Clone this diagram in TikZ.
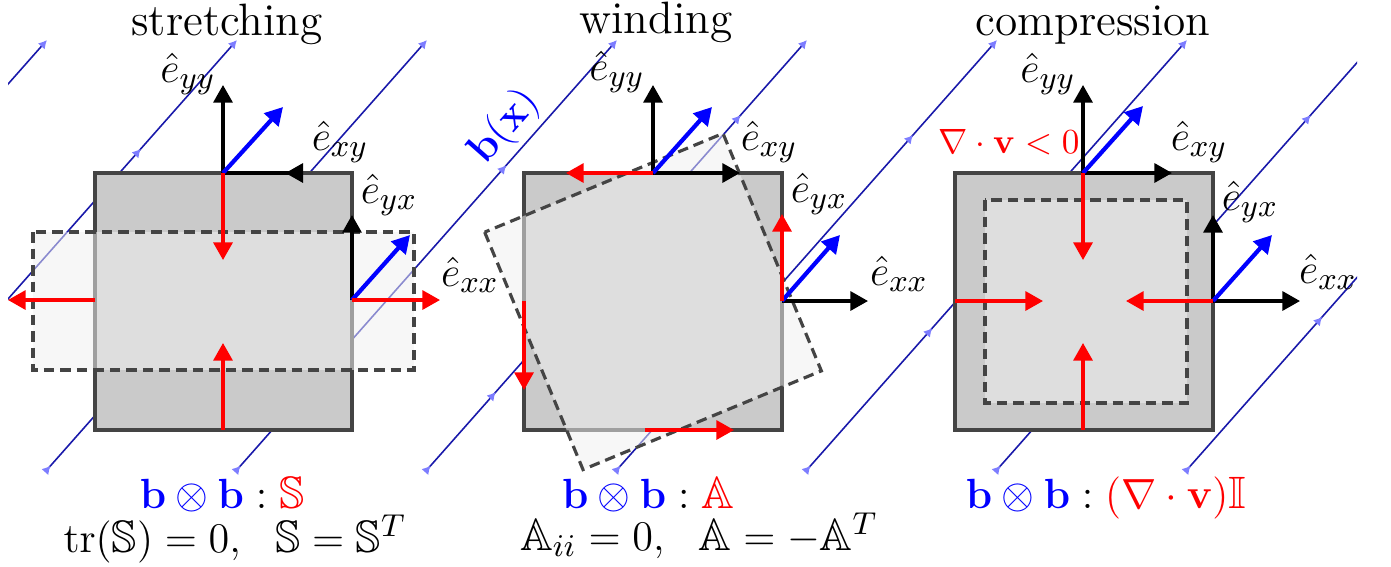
\documentclass[tikz,border=0pt]{standalone}
\usepackage{amsmath}
\usepackage{amssymb}
\usetikzlibrary{arrows.meta,decorations.markings}
\definecolor{fieldc}{RGB}{25,25,170}
\definecolor{tipc}{RGB}{125,125,255}
\definecolor{boxc}{RGB}{202,202,202}
\definecolor{edgec}{RGB}{68,68,68}

\begin{document}
\begin{tikzpicture}[x=0.01cm,y=-0.01cm,
  lab/.style={font=\fontsize{12.9}{15}\selectfont},
  fld/.style={fieldc,line width=0.45pt,{Latex[length=2.4pt,width=2.6pt,color=tipc,reversed]}-{Latex[length=2.4pt,width=2.6pt,color=tipc]}},
  midtip/.style={postaction={decorate,decoration={markings,mark=at position #1 with {\arrow{Latex[length=2.4pt,width=2.6pt,color=tipc]}}}}},
  box/.style={draw=edgec,fill=boxc,line width=1pt},
  ghost/.style={draw=edgec,line width=0.9pt,dash pattern=on 3pt off 1.7pt,fill=black!6,fill opacity=0.53},
  ax/.style={black,line width=0.9pt,-{Triangle[length=5pt,width=5.4pt]}},
  bv/.style={blue,line width=1.2pt,-{Triangle[length=5pt,width=5.4pt]}},
  rd/.style={red,line width=0.9pt,-{Triangle[length=5pt,width=5.4pt]}}]
\useasboundingbox (0,0) rectangle (1391,566);

% field lines b(x)
\begin{scope}
  \clip (8,0) rectangle (1357,566);
  \foreach \x in {-335,-145,45,235,425,615,805,995,1185}
    \draw[fld] (\x,472) -- ++(382,-432);
  \foreach \x/\p in {-145/0.748,235/0.71,425/0.185,425/0.826,615/0.78,805/0.333,995/0.826,1185/0.359}
    \path[midtip=\p] (\x,472) -- ++(382,-432);
\end{scope}
\node[lab,blue,rotate=48.5] (bx) at (505,127) {$\mathbf{b}(\mathbf{x})$};

% stretching
\draw[box] (95,173) rectangle (352,430);
\draw[ghost] (33,232) rectangle (414,370);
\coordinate (s-t) at (223,173);
\coordinate (s-r) at (352,300);
\coordinate (s-l) at (95,300);
\coordinate (s-b) at (223,430);
\draw[ax] (s-t) -- ++(0,-88);
\draw[black,line width=0.9pt,-{Triangle[length=5pt,width=5.4pt,reversed]}] (s-t) -- ++(80,0);
\draw[ax] (s-r) -- ++(0,-85);
\draw[bv] (s-t) -- ++(60,-66);
\draw[bv] (s-r) -- ++(58,-65);
\draw[rd] (s-t) -- ++(0,87);
\draw[rd] (s-b) -- ++(0,-87);
\draw[rd] (s-l) -- ++(-87,0);
\draw[rd] (s-r) -- ++(88,0);
\node[lab,anchor=base] (s-title) at (227,35) {stretching};
\node[lab,anchor=base] (s-yy) at (188,82) {$\hat e_{yy}$};
\node[lab,anchor=base] (s-xy) at (340,150) {$\hat e_{xy}$};
\node[lab,anchor=base] (s-yx) at (389,203) {$\hat e_{yx}$};
\node[lab,anchor=base] (s-xx) at (470,286) {$\hat e_{xx}$};
\node[lab,anchor=base] (s-eq) at (222,508) {${\color{blue}\mathbf{b}\otimes\mathbf{b}}:{\color{red}\mathbb{S}}$};
\node[lab,anchor=base] (s-prop) at (235,552) {$\mathrm{tr}(\mathbb{S})=0,\hspace{0.6em}\mathbb{S}=\mathbb{S}^T$};

% winding
\draw[box] (524,173) rectangle (782,430);
\draw[ghost,rotate around={22.5:(653,301.5)}] (524,173) rectangle (782,430);
\coordinate (w-t) at (653,173);
\coordinate (w-r) at (782,301);
\coordinate (w-l) at (524,301);
\coordinate (w-b) at (645,430);
\draw[ax] (w-t) -- ++(0,-88);
\draw[ax] (w-t) -- ++(87,0);
\draw[ax] (w-r) -- ++(86,0);
\draw[bv] (w-t) -- ++(59,-66);
\draw[bv] (w-r) -- ++(58,-66);
\draw[rd] (w-t) -- ++(-87,0);
\draw[rd] (w-r) -- ++(0,-87);
\draw[rd] (w-l) -- ++(0,89);
\draw[rd] (w-b) -- ++(89,0);
\node[lab,anchor=base] (w-title) at (656,33) {winding};
\node[lab,anchor=base] (w-yy) at (617,80) {$\hat e_{yy}$};
\node[lab,anchor=base] (w-xy) at (769,150) {$\hat e_{xy}$};
\node[lab,anchor=base] (w-yx) at (819,202) {$\hat e_{yx}$};
\node[lab,anchor=base] (w-xx) at (899,285) {$\hat e_{xx}$};
\node[lab,anchor=base] (w-eq) at (648,508) {${\color{blue}\mathbf{b}\otimes\mathbf{b}}:{\color{red}\mathbb{A}}$};
\node[lab,anchor=base] (w-prop) at (699,550) {$\mathbb{A}_{ii}=0,\hspace{0.6em}\mathbb{A}=-\mathbb{A}^T$};

% compression
\draw[box] (955,173) rectangle (1213,430);
\draw[ghost] (985,200) rectangle (1187,403);
\coordinate (c-t) at (1083,173);
\coordinate (c-r) at (1213,301);
\coordinate (c-l) at (955,301);
\coordinate (c-b) at (1083,430);
\draw[ax] (c-t) -- ++(0,-88);
\draw[ax] (c-t) -- ++(89,0);
\draw[ax] (c-r) -- ++(0,-86);
\draw[ax] (c-r) -- ++(87,0);
\draw[bv] (c-t) -- ++(60,-67);
\draw[bv] (c-r) -- ++(59,-66);
\draw[rd] (c-t) -- ++(0,87);
\draw[rd] (c-r) -- ++(-87,0);
\draw[rd] (c-l) -- ++(88,0);
\draw[rd] (c-b) -- ++(0,-87);
\node[lab,anchor=base] (c-title) at (1093,35) {compression};
\node[lab,anchor=base] (c-yy) at (1048,82) {$\hat e_{yy}$};
\node[lab,anchor=base] (c-xy) at (1199,150) {$\hat e_{xy}$};
\node[lab,anchor=base] (c-yx) at (1250,210) {$\hat e_{yx}$};
\node[lab,anchor=base] (c-xx) at (1328,283) {$\hat e_{xx}$};
\node[anchor=base,red,font=\fontsize{9.6}{11}\selectfont] (c-div) at (1009,153) {$\nabla\cdot\mathbf{v}<0$};
\node[lab,anchor=base] (c-eq) at (1106,508) {${\color{blue}\mathbf{b}\otimes\mathbf{b}}:{\color{red}(\nabla\cdot\mathbf{v})\mathbb{I}}$};
\end{tikzpicture}
\end{document}
